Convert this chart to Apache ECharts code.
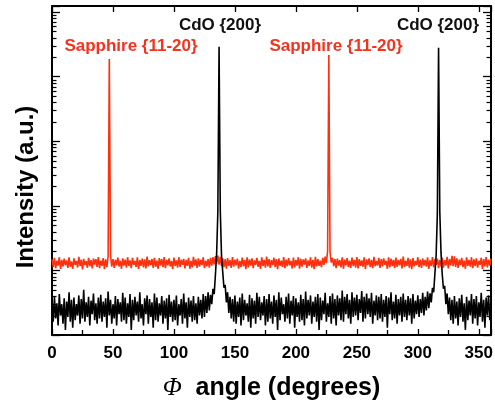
<!DOCTYPE html>
<html>
<head>
<meta charset="utf-8">
<script src="https://cdn.jsdelivr.net/npm/echarts@6/dist/echarts.min.js"></script>
<style>
html,body{margin:0;padding:0;background:#fff;}
#chart{width:495px;height:400px;}
</style>
</head>
<body>
<div id="chart"></div>
<script>
// Phi sampling: 0..360 deg, 1 deg step
const PHI_START = 0, PHI_STEP = 1, PHI_COUNT = 361;

// Sapphire {11-20} phi scan (red)
const sapphire = [
14.8,11.2,15.6,10.8,14.1,11.9,16.0,10.5,14.6,11.5,
15.2,12.0,14.3,10.9,15.9,11.4,13.8,10.6,15.4,12.2,
14.0,11.1,16.2,11.7,14.7,10.4,15.1,12.1,13.9,11.0,
15.7,11.6,14.4,10.7,15.3,12.3,14.9,11.3,16.1,10.8,
14.2,11.8,15.5,10.5,14.8,11.2,16.4,18700,17.0,11.4,
15.0,10.9,14.6,12.0,15.8,11.5,14.1,10.6,15.4,11.9,
14.7,11.0,16.0,11.7,14.3,10.8,15.6,12.2,14.0,11.3,
15.9,10.5,14.5,11.8,15.2,11.1,14.8,10.7,16.3,11.6,
14.4,12.1,15.0,10.9,15.7,11.4,14.2,10.6,15.5,11.9,
14.9,11.2,16.1,10.8,14.6,12.0,15.3,11.5,14.0,10.5,
15.8,11.7,14.3,11.0,16.0,11.3,14.7,12.2,15.1,10.7,
14.5,11.8,15.6,10.6,14.1,11.1,16.2,11.9,14.8,10.9,
15.4,11.4,14.6,12.1,15.9,10.8,14.2,11.6,15.0,11.0,
15.7,11.9,16.0,12.4,16.6,12.6,17.0,12.3,16.2,11.7,
15.3,11.2,14.9,10.6,15.5,11.8,14.4,10.9,16.1,11.5,
14.7,12.0,15.2,10.7,14.0,11.3,15.8,11.6,14.5,10.5,
16.0,11.1,14.8,11.9,15.4,10.8,14.3,12.2,15.6,11.4,
14.1,10.6,15.9,11.7,14.6,11.0,16.3,11.5,15.0,10.9,
14.4,12.1,15.7,11.2,14.9,10.5,15.3,11.8,14.2,11.3,
16.1,10.8,14.7,11.6,15.5,12.0,14.0,10.7,15.8,11.1,
14.5,11.9,16.0,10.6,15.1,11.4,14.8,12.3,15.4,10.9,
14.3,11.7,15.9,11.0,14.6,10.5,16.2,11.5,15.0,11.8,
14.1,11.2,15.6,12.2,16.4,13.0,20.0,21600,19.0,13.2,
15.7,11.6,14.9,10.8,15.2,11.9,14.4,11.1,16.0,10.6,
14.7,12.0,15.5,11.3,14.2,10.9,15.8,11.7,14.6,11.0,
16.1,10.7,15.0,11.8,14.3,11.4,15.9,10.5,14.8,12.1,
15.3,11.2,14.5,10.8,16.2,11.6,14.0,11.9,15.6,10.9,
14.9,11.5,15.4,12.2,14.1,10.6,16.0,11.1,15.2,11.7,
14.6,10.8,15.8,11.4,14.4,12.0,15.1,10.7,16.3,11.3,
14.2,11.8,15.7,11.0,14.8,10.5,15.5,11.6,14.0,12.1,
16.0,11.2,14.7,10.9,15.3,11.9,14.5,11.4,15.9,10.6,
14.3,11.7,16.1,11.1,14.9,12.2,15.2,10.8,14.6,11.5,
15.8,11.0,14.4,11.9,16.2,10.7,15.0,12.0,16.8,11.6,
16.5,11.3,15.4,10.9,14.7,12.1,15.6,11.2,14.2,10.6,
15.9,11.8,14.5,11.4,16.0,10.8,14.8,11.7,15.3,11.0,
14.1,12.2,15.7,10.5,14.9,11.5,16.1,11.1,14.6,11.9,
15.2
];

// CdO {200} phi scan (black)
const cdo = [
3.4,1.6,3.9,1.8,3.1,1.4,4.3,2.0,3.0,1.5,
3.7,1.2,3.3,1.9,4.6,1.6,3.5,1.3,3.8,1.7,
3.0,2.0,4.1,1.5,3.6,1.8,5.0,1.6,3.2,1.9,
3.9,1.4,3.4,2.1,4.4,1.7,3.1,1.5,3.8,1.8,
4.2,1.6,3.3,1.9,3.7,1.3,4.7,2.0,3.5,1.5,
3.0,1.8,4.0,1.4,3.6,2.1,3.2,1.6,4.5,1.7,
3.8,1.5,3.1,1.9,4.3,1.2,3.5,1.7,3.9,2.0,
3.3,1.6,4.6,1.8,3.0,1.4,3.7,2.1,4.1,1.5,
3.6,1.9,3.2,1.3,4.4,1.7,3.8,1.6,3.1,2.0,
4.0,1.5,3.4,1.8,3.7,1.2,4.2,1.9,3.3,1.6,
3.5,1.7,4.1,1.4,3.0,2.0,3.6,1.5,4.4,1.8,
3.2,1.3,3.8,1.9,3.4,1.6,4.0,1.7,3.1,1.5,
3.9,2.0,3.5,1.8,4.3,1.9,4.0,2.2,4.6,2.4,
4.2,3.0,5.2,4.3,8.5,18,80,29000,85,17,
9.5,5.4,6.0,3.2,4.6,2.2,3.9,1.8,3.6,1.6,
4.1,1.5,3.3,1.9,3.8,1.4,4.4,1.7,3.5,2.0,
3.1,1.6,4.2,1.3,3.7,1.8,3.4,1.5,4.5,1.9,
3.9,1.7,3.2,2.0,4.0,1.4,3.6,1.6,4.3,1.8,
3.3,1.5,4.1,1.9,3.5,1.2,4.6,1.7,3.8,2.1,
3.0,1.6,3.9,1.8,4.4,1.5,3.4,2.0,4.0,1.3,
3.7,1.9,3.2,1.6,4.2,1.7,3.6,1.4,4.7,1.8,
3.5,2.0,4.1,1.5,3.3,1.9,3.9,1.6,4.3,1.2,
3.8,1.7,3.4,2.1,4.5,1.6,3.1,1.9,4.0,1.5,
4.4,1.8,3.6,1.4,4.1,2.0,3.7,1.7,4.9,1.6,
3.9,2.1,4.3,1.8,3.5,1.5,4.6,1.9,3.8,2.0,
4.2,1.7,3.6,2.2,4.8,1.6,3.9,1.8,4.4,2.1,
3.7,1.9,4.5,1.5,3.4,2.0,4.1,1.7,3.9,1.8,
4.3,1.6,3.5,1.9,4.0,1.3,3.8,2.1,4.6,1.7,
3.3,1.8,4.2,1.5,3.6,2.0,3.9,1.6,4.4,1.9,
3.5,1.7,4.0,2.0,3.7,1.5,4.3,1.8,3.4,2.1,
4.1,1.9,3.6,2.2,4.5,2.0,3.9,2.4,4.7,2.6,
4.4,3.2,5.4,4.6,9.0,17,75,28000,82,19,
8.8,5.2,5.8,3.0,4.4,2.1,3.8,1.7,3.5,1.5,
4.0,1.8,3.3,1.4,3.7,1.9,4.2,1.6,3.1,1.2,
3.9,1.7,3.4,2.0,4.3,1.5,3.6,1.8,4.0,1.4,
3.2,1.9,4.5,1.6,3.5,1.3,3.8,2.0,4.1,1.7,
3.0
];

const xTicks = [0, 50, 100, 150, 200, 250, 300, 350];
const yDecades = [1, 10, 100, 1000, 10000, 100000];
const yMinorMultipliers = [2, 3, 4, 5, 6, 7, 8, 9];

const peakLabels = [
  { text: 'Sapphire {11-20}', color: '#f5321e' },
  { text: 'CdO {200}', color: '#111' }
];

const phi = [];
for (let i = 0; i < PHI_COUNT; i++) phi.push(PHI_START + i * PHI_STEP);

const RED = '#ff300e';
const Y_MIN = 1, Y_MAX = 124000;

const yMinorTicks = [];
yDecades.forEach(function (d) {
  yMinorMultipliers.forEach(function (m) { if (d * m < Y_MAX) yMinorTicks.push(d * m); });
});

const chart = echarts.init(document.getElementById('chart'), null, { renderer: 'canvas' });

function yAxisDef(pos) {
  return {
    type: 'log', logBase: 10, min: Y_MIN, max: Y_MAX, position: pos,
    axisLine: { show: true, onZero: false, lineStyle: { color: '#000', width: 2 } },
    axisTick: { show: true, inside: true, length: 8, lineStyle: { color: '#000', width: 1.3 } },
    axisLabel: { show: false },
    splitLine: { show: false },
    minorTick: { show: false }
  };
}

const option = {
  animation: false,
  backgroundColor: '#fff',
  grid: { left: 52, right: 4, top: 6, bottom: 65, containLabel: false, outerBoundsMode: 'none' },
  xAxis: [
    {
      type: 'value', min: 0, max: 360, interval: 50, position: 'bottom',
      axisLine: { show: true, onZero: false, lineStyle: { color: '#000', width: 2 } },
      axisTick: { show: true, inside: true, length: 6, lineStyle: { color: '#000', width: 1.3 } },
      minorTick: { show: true, splitNumber: 2, length: 5, lineStyle: { color: '#000', width: 1.3 } },
      axisLabel: {
        show: true, customValues: xTicks, margin: 10, color: '#000',
        fontFamily: 'Liberation Sans, Arial, sans-serif', fontWeight: 'bold', fontSize: 17
      },
      splitLine: { show: false },
      name: '{phi|Φ}  angle (degrees)',
      nameLocation: 'middle', nameGap: 41,
      nameTextStyle: {
        color: '#000', fontFamily: 'Liberation Sans, Arial, sans-serif', fontWeight: 'bold', fontSize: 25,
        rich: {
          phi: { fontFamily: 'Liberation Serif, Times New Roman, serif', fontStyle: 'italic', fontWeight: 'normal', fontSize: 25, color: '#000' }
        }
      }
    },
    {
      type: 'value', min: 0, max: 360, interval: 50, position: 'top',
      axisLine: { show: true, onZero: false, lineStyle: { color: '#000', width: 2 } },
      axisTick: { show: true, inside: true, length: 6, lineStyle: { color: '#000', width: 1.3 } },
      axisLabel: { show: false },
      splitLine: { show: false }
    }
  ],
  yAxis: [
    yAxisDef('left'),
    yAxisDef('right')
  ],
  series: [
    {
      name: 'Sapphire {11-20}', type: 'line', xAxisIndex: 0, yAxisIndex: 0,
      data: phi.map(function (p, i) { return [p, sapphire[i]]; }),
      showSymbol: false, symbol: 'none', sampling: null,
      lineStyle: { color: RED, width: 1.6 }, z: 2
    },
    {
      name: 'CdO {200}', type: 'line', xAxisIndex: 0, yAxisIndex: 0,
      data: phi.map(function (p, i) { return [p, cdo[i]]; }),
      showSymbol: false, symbol: 'none', sampling: null,
      lineStyle: { color: '#000', width: 1.6 }, z: 3
    },
    {
      // logarithmic minor ticks on left and right frame edges
      name: 'minorTicks', type: 'custom', xAxisIndex: 0, yAxisIndex: 0, silent: true, clip: false, z: 5,
      data: yMinorTicks.map(function (v) { return [0, v]; }),
      renderItem: function (params, api) {
        const pt = api.coord([0, api.value(1)]);
        const cs = params.coordSys;
        const y = Math.round(pt[1]) + 0.5;
        const st = { stroke: '#000', lineWidth: 1.2 };
        return {
          type: 'group',
          children: [
            { type: 'line', shape: { x1: cs.x, y1: y, x2: cs.x + 4.5, y2: y }, style: st },
            { type: 'line', shape: { x1: cs.x + cs.width - 4.5, y1: y, x2: cs.x + cs.width, y2: y }, style: st }
          ]
        };
      }
    }
  ],
  graphic: [
    { type: 'text', x: 131, y: 46, style: { text: peakLabels[0].text, fill: peakLabels[0].color, font: 'bold 17px "Liberation Sans", Arial, sans-serif', align: 'center', verticalAlign: 'middle' } },
    { type: 'text', x: 336, y: 46, style: { text: peakLabels[0].text, fill: peakLabels[0].color, font: 'bold 17px "Liberation Sans", Arial, sans-serif', align: 'center', verticalAlign: 'middle' } },
    { type: 'text', x: 220, y: 25, style: { text: peakLabels[1].text, fill: peakLabels[1].color, font: 'bold 17px "Liberation Sans", Arial, sans-serif', align: 'center', verticalAlign: 'middle' } },
    { type: 'text', x: 438, y: 25, style: { text: peakLabels[1].text, fill: peakLabels[1].color, font: 'bold 17px "Liberation Sans", Arial, sans-serif', align: 'center', verticalAlign: 'middle' } },
    { type: 'text', x: 26, y: 187, rotation: Math.PI / 2, style: { text: 'Intensity (a.u.)', fill: '#000', font: 'bold 24px "Liberation Sans", Arial, sans-serif', align: 'center', verticalAlign: 'middle' } }
  ]
};

chart.setOption(option);
</script>
</body>
</html>
